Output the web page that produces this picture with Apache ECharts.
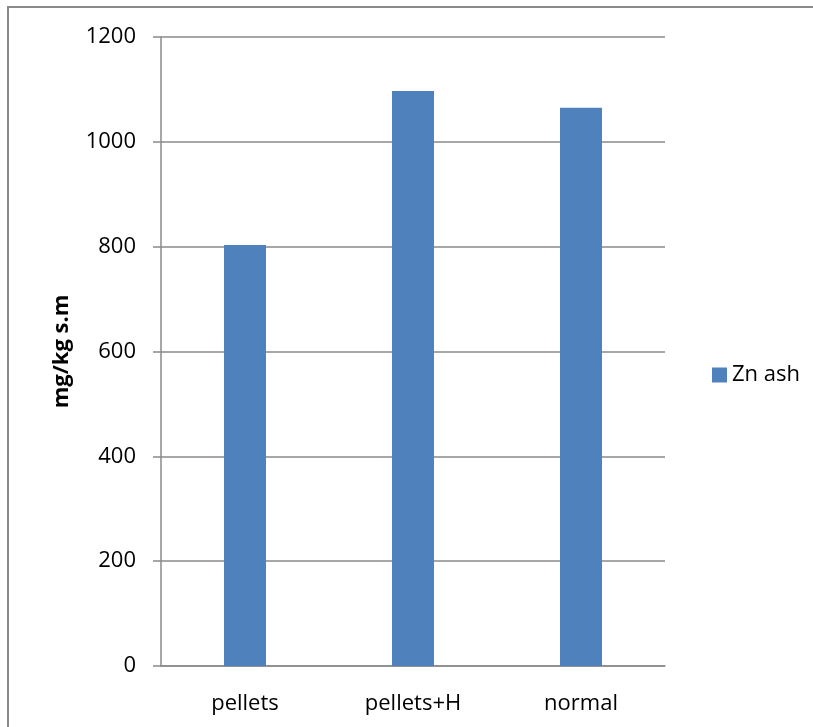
<!DOCTYPE html>
<html>
<head>
<meta charset="utf-8">
<script src="https://cdn.jsdelivr.net/npm/echarts@6/dist/echarts.min.js"></script>
<style>
  html, body { margin: 0; padding: 0; background: #ffffff; }
  #chart { width: 813px; height: 727px; }
</style>
</head>
<body>
<div id="chart"></div>
<script>
// Zn content in ash by fuel type
const categories = ['pellets', 'pellets+H', 'normal'];
const znAsh = [803, 1097, 1065];
const yTicks = { min: 0, max: 1200, interval: 200 };

const gray = '#8a8a8a';
const font = 'Open Sans';

const chart = echarts.init(document.getElementById('chart'));
chart.setOption({
  animation: false,
  backgroundColor: '#ffffff',
  textStyle: { fontFamily: font },
  graphic: [{
    type: 'rect',
    shape: { x: 8, y: 7, width: 900, height: 900 },
    style: { fill: 'none', stroke: gray, lineWidth: 2 },
    silent: true
  }],
  grid: { left: 161, right: 148, top: 37, bottom: 61 },
  legend: {
    orient: 'vertical',
    left: 707,
    top: 359,
    itemWidth: 15,
    itemHeight: 15,
    itemGap: 6,
    icon: 'rect',
    textStyle: { fontFamily: font, fontSize: 22, color: '#000000' },
    data: ['Zn ash']
  },
  xAxis: {
    type: 'category',
    data: categories,
    axisLine: { lineStyle: { color: gray, width: 1.5 } },
    axisTick: { show: false },
    axisLabel: { fontFamily: font, fontSize: 22, color: '#000000', margin: 27 }
  },
  yAxis: {
    type: 'value',
    min: yTicks.min,
    max: yTicks.max,
    interval: yTicks.interval,
    name: 'mg/kg s.m',
    nameLocation: 'middle',
    nameGap: 88,
    nameRotate: 90,
    nameTextStyle: { fontFamily: font, fontSize: 22, fontWeight: 'bold', color: '#000000' },
    axisLine: { show: true, lineStyle: { color: gray, width: 1.5 } },
    axisTick: { show: true, inside: false, length: 8, lineStyle: { color: gray, width: 1.5 } },
    axisLabel: {
      fontFamily: font, fontSize: 22, color: '#000000', margin: 25,
      formatter: v => String(v)
    },
    splitLine: { show: true, lineStyle: { color: gray, width: 1.5 } }
  },
  series: [{
    name: 'Zn ash',
    type: 'bar',
    data: znAsh,
    barWidth: '25%',
    itemStyle: { color: '#4f81bd' }
  }]
});
</script>
</body>
</html>
